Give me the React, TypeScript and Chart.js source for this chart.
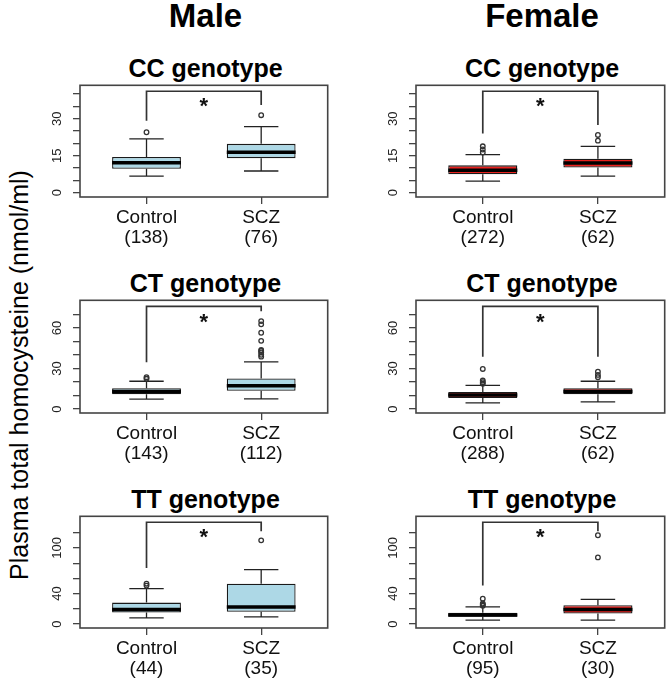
import React, { useEffect, useRef } from 'react';
import { Chart, registerables } from 'chart.js';

Chart.register(...registerables);

const FONT = "'Liberation Sans', Arial, Helvetica, sans-serif";

// ---------- data ----------
const groups = ['Control', 'SCZ'];
const groupX = [1, 2];

// Male CC
const mCC_n = [138, 76];
const mCC_lo = [6.7, 8.8];
const mCC_q1 = [9.7, 14.0];
const mCC_med = [12.1, 16.4];
const mCC_q3 = [14.5, 19.8];
const mCC_hi = [21.8, 26.8];
const mCC_outCtrl = [24.5];
const mCC_outScz = [31.4];
const mCC_bracket = [29.1, 41.1, 35.5];

// Female CC
const fCC_n = [272, 62];
const fCC_lo = [4.7, 6.7];
const fCC_q1 = [7.5, 10.2];
const fCC_med = [9.1, 12.0];
const fCC_q3 = [11.1, 13.8];
const fCC_hi = [15.4, 18.8];
const fCC_outCtrl = [16.3, 17.5, 18.8];
const fCC_outScz = [21.1, 23.4];
const fCC_bracket = [24.0, 41.1, 27.4];

// Male CT
const mCT_n = [143, 112];
const mCT_lo = [7.3, 7.5];
const mCT_q1 = [10.9, 13.6];
const mCT_med = [13.1, 17.3];
const mCT_q3 = [15.5, 22.6];
const mCT_hi = [20.6, 35.0];
const mCT_outCtrl = [22.4, 23.6];
const mCT_outScz = [38.8, 40.2, 41.9, 43.0, 43.7, 50.5, 56.5, 62.7, 65.1];
const mCT_bracket = [34.6, 76.0, 72.4];

// Female CT
const fCT_n = [288, 62];
const fCT_lo = [4.6, 5.3];
const fCT_q1 = [8.2, 10.9];
const fCT_med = [10.4, 13.1];
const fCT_q3 = [12.6, 15.5];
const fCT_hi = [17.5, 20.6];
const fCT_outCtrl = [18.7, 19.9, 21.1, 29.7];
const fCT_outScz = [23.6, 25.3, 27.7];
const fCT_bracket = [38.8, 76.0, 38.8];

// Male TT
const mTT_n = [44, 35];
const mTT_lo = [8.2, 9.5];
const mTT_q1 = [15.2, 16.0];
const mTT_med = [19.1, 22.5];
const mTT_q3 = [28.2, 52.9];
const mTT_hi = [46.5, 71.4];
const mTT_outCtrl = [50.5, 53.0];
const mTT_outScz = [110.0];
const mTT_bracket = [73.6, 133.8, 122.0];

// Female TT
const fTT_n = [95, 30];
const fTT_lo = [5.2, 5.2];
const fTT_q1 = [9.5, 13.9];
const fTT_med = [12.0, 19.1];
const fTT_q3 = [14.7, 24.7];
const fTT_hi = [22.5, 32.5];
const fTT_outCtrl = [24.0, 25.5, 27.0, 33.4];
const fTT_outScz = [87.6, 116.7];
const fTT_bracket = [50.6, 133.8, 122.0];

// y axes per genotype row
const ccTicks = [0, 5, 10, 15, 20, 25, 30, 35, 40];
const ccLabels = [0, 15, 30];
const ctTicks = [0, 10, 20, 30, 40, 50, 60, 70];
const ctLabels = [0, 30, 60];
const ttTicks = [0, 20, 40, 60, 80, 100, 120];
const ttLabels = [0, 40, 100];
const ccRange = [-1.72, 43.5];
const ctRange = [-2.9, 80.5];
const ttRange = [-5.2, 141.6];
const starY = [37.5, 68.8, 122.0];

// ---------- layout ----------
const COLS = [
  { L: 80, R: 331 },
  { L: 416, R: 668 },
];
const ROWS = [
  { T: 84, B: 197 },
  { T: 299, B: 413 },
  { T: 515, B: 628 },
];
const LEFT = 34;
const PADT = 4;
const PADR = 2;
const BOTTOM = 56;
const BOX_HALF = 0.3;
const CAP_HALF = 0.15;

const MALE_FILL = '#ADD8E6';
const FEMALE_FILL = '#E8211E';

type PanelProps = {
  col: number;
  row: number;
  title: string;
  n: number[];
  lo: number[];
  q1: number[];
  med: number[];
  q3: number[];
  hi: number[];
  outCtrl: number[];
  outScz: number[];
  bracket: number[];
  star: number;
  range: number[];
  ticks: number[];
  labels: number[];
  fill: string;
};

function Panel(p: PanelProps) {
  const ref = useRef<HTMLCanvasElement | null>(null);
  const c = COLS[p.col];
  const r = ROWS[p.row];
  const W = LEFT + (c.R - c.L) + PADR;
  const H = PADT + (r.B - r.T) + BOTTOM;

  useEffect(() => {
    if (!ref.current) return;
    const boxData = groupX.map((x, i) => ({ x, y: [p.q1[i], p.q3[i]] }));
    const whisk: any[] = [];
    groupX.forEach((x, i) => {
      whisk.push(
        { x, y: p.q3[i] }, { x, y: p.hi[i] }, { x, y: null },
        { x, y: p.q1[i] }, { x, y: p.lo[i] }, { x, y: null },
        { x: x - CAP_HALF, y: p.hi[i] }, { x: x + CAP_HALF, y: p.hi[i] }, { x, y: null },
        { x: x - CAP_HALF, y: p.lo[i] }, { x: x + CAP_HALF, y: p.lo[i] }, { x, y: null }
      );
    });
    const meds: any[] = [];
    groupX.forEach((x, i) => {
      meds.push({ x: x - BOX_HALF, y: p.med[i] }, { x: x + BOX_HALF, y: p.med[i] }, { x, y: null });
    });
    const outs = [
      ...p.outCtrl.map((v) => ({ x: groupX[0], y: v })),
      ...p.outScz.map((v) => ({ x: groupX[1], y: v })),
    ];
    const br = [
      { x: groupX[0], y: p.bracket[0] },
      { x: groupX[0], y: p.bracket[1] },
      { x: groupX[1], y: p.bracket[1] },
      { x: groupX[1], y: p.bracket[2] },
    ];

    const axisGrid = {
      display: true,
      drawOnChartArea: false,
      drawTicks: true,
      tickLength: 7,
      color: '#444',
      lineWidth: 1.3,
      offset: false,
    };

    const chart = new Chart(ref.current, {
      type: 'bar',
      data: {
        datasets: [
          {
            type: 'line',
            data: whisk,
            borderColor: '#222',
            borderWidth: 1.3,
            pointRadius: 0,
            spanGaps: false,
            order: 3,
          } as any,
          {
            type: 'bar',
            data: boxData,
            backgroundColor: p.fill,
            borderColor: '#1a1a1a',
            borderWidth: 1.3,
            borderSkipped: false,
            barPercentage: 0.6,
            categoryPercentage: 1,
            order: 2,
          } as any,
          {
            type: 'line',
            data: meds,
            borderColor: '#000',
            borderWidth: 3.5,
            pointRadius: 0,
            spanGaps: false,
            order: 1,
          } as any,
          {
            type: 'scatter',
            data: outs,
            pointRadius: 2.3,
            pointBorderColor: '#333',
            pointBackgroundColor: 'rgba(0,0,0,0)',
            pointBorderWidth: 1.3,
            order: 0,
          } as any,
          {
            type: 'line',
            data: br,
            borderColor: '#333',
            borderWidth: 1.7,
            pointRadius: 0,
            order: 0,
          } as any,
        ],
      },
      options: {
        animation: false,
        responsive: false,
        maintainAspectRatio: false,
        devicePixelRatio: 1,
        layout: { padding: { top: PADT, right: PADR, left: 0, bottom: 0 } },
        plugins: { legend: { display: false }, tooltip: { enabled: false }, title: { display: false } },
        scales: {
          x: {
            type: 'linear',
            min: 0.42,
            max: 2.58,
            offset: false,
            bounds: 'data',
            afterBuildTicks: (s: any) => {
              s.ticks = groupX.map((v) => ({ value: v }));
            },
            afterFit: (s: any) => {
              s.height = BOTTOM;
            },
            ticks: {
              autoSkip: false,
              maxRotation: 0,
              minRotation: 0,
              padding: 4,
              color: '#111',
              font: { family: FONT, size: 19, lineHeight: 1.05 },
              callback: (v: any) => {
                const i = groupX.indexOf(Number(v));
                return [groups[i], '(' + p.n[i] + ')'];
              },
            },
            grid: axisGrid,
            border: { display: false },
          } as any,
          y: {
            type: 'linear',
            min: p.range[0],
            max: p.range[1],
            bounds: 'data',
            afterBuildTicks: (s: any) => {
              s.ticks = p.ticks.map((v) => ({ value: v }));
            },
            afterFit: (s: any) => {
              s.width = LEFT;
            },
            ticks: { display: false },
            grid: axisGrid,
            border: { display: false },
          } as any,
        },
      },
      plugins: [
        {
          id: 'rdeco',
          afterDatasetsDraw(ch: any) {
            const { ctx, chartArea: a, scales } = ch;
            const xs = scales.x;
            const ys = scales.y;
            ctx.save();
            ctx.strokeStyle = '#444';
            ctx.lineWidth = 1.6;
            ctx.strokeRect(a.left, a.top, a.right - a.left, a.bottom - a.top);
            ctx.fillStyle = '#222';
            ctx.font = '13px ' + FONT;
            ctx.textAlign = 'center';
            ctx.textBaseline = 'middle';
            p.labels.forEach((v) => {
              const py = ys.getPixelForValue(v);
              ctx.save();
              ctx.translate(a.left - 23, py);
              ctx.rotate(-Math.PI / 2);
              ctx.fillText(String(v), 0, 0);
              ctx.restore();
            });
            ctx.fillStyle = '#111';
            ctx.font = 'bold 22px ' + FONT;
            ctx.textBaseline = 'alphabetic';
            ctx.fillText('*', xs.getPixelForValue(1.5), ys.getPixelForValue(p.star) + 0.57 * 22);
            ctx.restore();
          },
        },
      ],
    } as any);
    return () => chart.destroy();
  }, []);

  return (
    <>
      <div
        style={{
          position: 'absolute',
          left: c.L,
          width: c.R - c.L,
          top: r.T - 16 - 12.5,
          fontFamily: FONT,
          fontWeight: 'bold',
          fontSize: 25,
          lineHeight: '25px',
          textAlign: 'center',
          color: '#000',
          whiteSpace: 'nowrap',
        }}
      >
        {p.title}
      </div>
      <canvas
        ref={ref}
        width={W}
        height={H}
        style={{ position: 'absolute', left: c.L - LEFT, top: r.T - PADT, width: W, height: H }}
      />
    </>
  );
}

export default function App() {
  return (
    <div
      style={{
        position: 'absolute',
        left: 0,
        top: 0,
        width: 670,
        height: 680,
        overflow: 'hidden',
        background: '#fff',
      }}
    >
      <div style={{ position: 'absolute', left: COLS[0].L, width: COLS[0].R - COLS[0].L, top: 0, fontFamily: FONT, fontWeight: 'bold', fontSize: 33, lineHeight: '32px', textAlign: 'center' }}>
        Male
      </div>
      <div style={{ position: 'absolute', left: COLS[1].L, width: COLS[1].R - COLS[1].L, top: 0, fontFamily: FONT, fontWeight: 'bold', fontSize: 33, lineHeight: '32px', textAlign: 'center' }}>
        Female
      </div>
      <div
        style={{
          position: 'absolute',
          left: 19 - 220,
          top: 375 - 15,
          width: 440,
          height: 30,
          lineHeight: '30px',
          fontFamily: FONT,
          fontSize: 25,
          textAlign: 'center',
          whiteSpace: 'nowrap',
          transform: 'rotate(-90deg)',
          transformOrigin: '50% 50%',
        }}
      >
        Plasma total homocysteine (nmol/ml)
      </div>

      <Panel col={0} row={0} title="CC genotype" n={mCC_n} lo={mCC_lo} q1={mCC_q1} med={mCC_med} q3={mCC_q3} hi={mCC_hi}
        outCtrl={mCC_outCtrl} outScz={mCC_outScz} bracket={mCC_bracket} star={starY[0]} range={ccRange} ticks={ccTicks} labels={ccLabels} fill={MALE_FILL} />
      <Panel col={1} row={0} title="CC genotype" n={fCC_n} lo={fCC_lo} q1={fCC_q1} med={fCC_med} q3={fCC_q3} hi={fCC_hi}
        outCtrl={fCC_outCtrl} outScz={fCC_outScz} bracket={fCC_bracket} star={starY[0]} range={ccRange} ticks={ccTicks} labels={ccLabels} fill={FEMALE_FILL} />
      <Panel col={0} row={1} title="CT genotype" n={mCT_n} lo={mCT_lo} q1={mCT_q1} med={mCT_med} q3={mCT_q3} hi={mCT_hi}
        outCtrl={mCT_outCtrl} outScz={mCT_outScz} bracket={mCT_bracket} star={starY[1]} range={ctRange} ticks={ctTicks} labels={ctLabels} fill={MALE_FILL} />
      <Panel col={1} row={1} title="CT genotype" n={fCT_n} lo={fCT_lo} q1={fCT_q1} med={fCT_med} q3={fCT_q3} hi={fCT_hi}
        outCtrl={fCT_outCtrl} outScz={fCT_outScz} bracket={fCT_bracket} star={starY[1]} range={ctRange} ticks={ctTicks} labels={ctLabels} fill={FEMALE_FILL} />
      <Panel col={0} row={2} title="TT genotype" n={mTT_n} lo={mTT_lo} q1={mTT_q1} med={mTT_med} q3={mTT_q3} hi={mTT_hi}
        outCtrl={mTT_outCtrl} outScz={mTT_outScz} bracket={mTT_bracket} star={starY[2]} range={ttRange} ticks={ttTicks} labels={ttLabels} fill={MALE_FILL} />
      <Panel col={1} row={2} title="TT genotype" n={fTT_n} lo={fTT_lo} q1={fTT_q1} med={fTT_med} q3={fTT_q3} hi={fTT_hi}
        outCtrl={fTT_outCtrl} outScz={fTT_outScz} bracket={fTT_bracket} star={starY[2]} range={ttRange} ticks={ttTicks} labels={ttLabels} fill={FEMALE_FILL} />
    </div>
  );
}
